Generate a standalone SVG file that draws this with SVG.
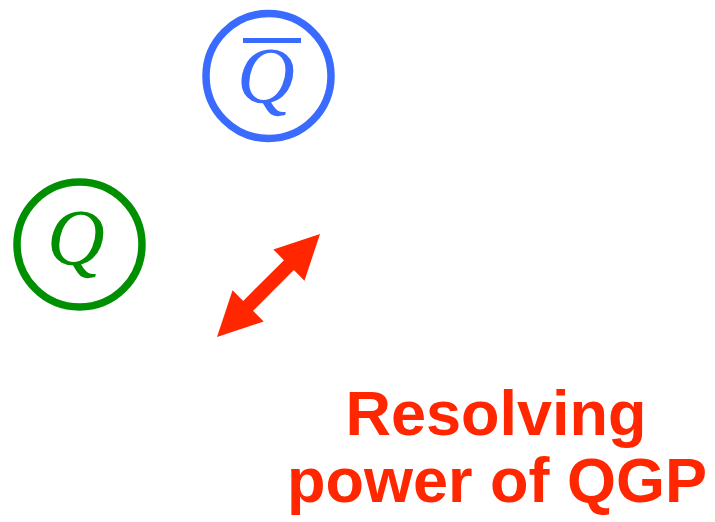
<svg xmlns="http://www.w3.org/2000/svg" width="715" height="522" viewBox="0 0 715 522">
<style>
.ring{fill:none;stroke-width:7.5}
.q{font-family:"Liberation Serif","Times New Roman",serif;font-style:italic;font-size:80px;text-anchor:middle}
.lbl{font-family:"Liberation Sans",Arial,sans-serif;font-weight:bold;font-size:63px;fill:#FF2600;text-anchor:middle}
</style>
<rect width="715" height="522" fill="#ffffff"/>
<g id="antiquark">
<circle class="ring" cx="268.5" cy="76" r="62.5" stroke="#3A6BFF"/>
<rect x="243" y="38" width="58" height="5" fill="#3A6BFF"/>
<text class="q" x="266" y="103" fill="#3A6BFF">Q</text>
</g>
<g id="quark">
<circle class="ring" cx="79.5" cy="244.5" r="62.5" stroke="#008F00"/>
<text class="q" x="76" y="265" fill="#008F00">Q</text>
</g>
<g id="connectors">
<polygon transform="translate(217,337) rotate(-45)" fill="#FF2600" points="0,0 44,-22 44,-7 101.7,-7 101.7,-22 145.7,0 101.7,22 101.7,7 44,7 44,22"/>
</g>
<g id="label">
<text class="lbl" x="496" y="435">Resolving</text>
<text class="lbl" x="497" y="502">power of QGP</text>
</g>
</svg>
